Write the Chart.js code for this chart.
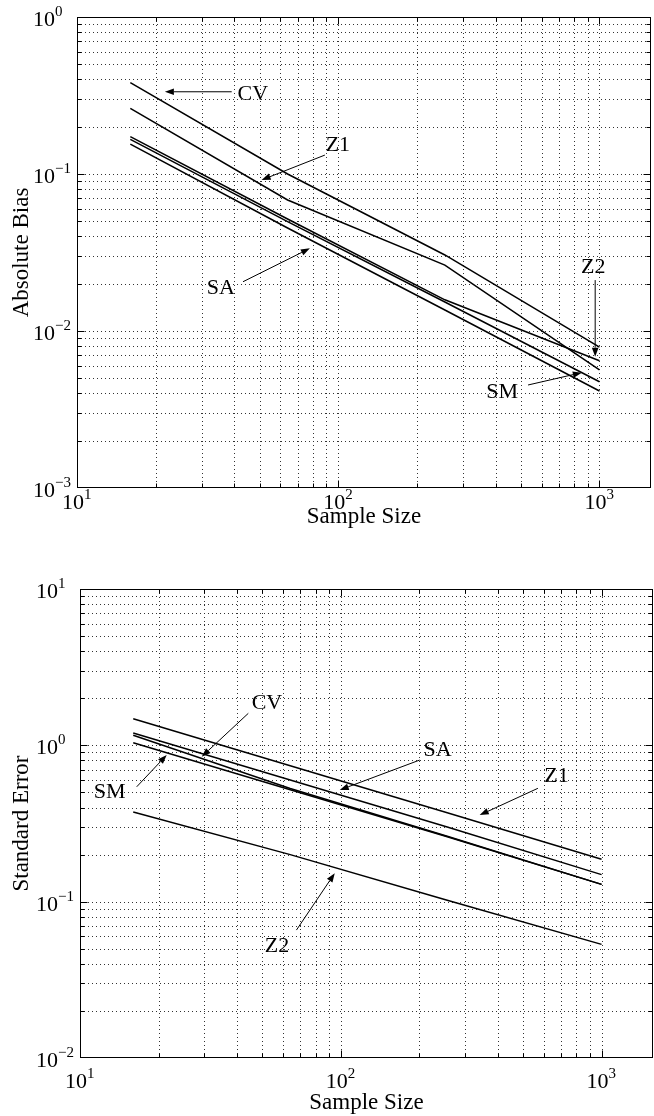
<!DOCTYPE html>
<html>
<head>
<meta charset="utf-8">
<script src="https://cdn.jsdelivr.net/npm/chart.js@4.4.1/dist/chart.umd.min.js"></script>
<style>
  body { margin: 0; background: #fff; }
  canvas { display: block; }
</style>
</head>
<body>
<canvas id="biasChart" width="654" height="560"></canvas>
<canvas id="errorChart" width="654" height="556"></canvas>
<script>
const sampleSizes = [16, 64, 256, 1000];

// top panel: absolute bias
const biasCV = [0.382, 0.100, 0.0305, 0.0079];
const biasZ1 = [0.262, 0.0683, 0.0263, 0.00565];
const biasZ2 = [0.173, 0.0517, 0.0158, 0.00647];
const biasSM = [0.166, 0.0497, 0.0153, 0.00475];
const biasSA = [0.155, 0.0453, 0.0136, 0.00415];

// bottom panel: standard error
const errorZ1 = [1.48, 0.74, 0.37, 0.187];
const errorSA = [1.20, 0.60, 0.30, 0.149];
const errorCV = [1.16, 0.53, 0.262, 0.129];
const errorSM = [1.04, 0.52, 0.26, 0.129];
const errorZ2 = [0.375, 0.20, 0.102, 0.0533];

// tick labels are 10 with a superscript exponent
const xDecades = [10, 100, 1000];
const xExponents = ["1", "2", "3"];
const biasDecades = [0.001, 0.01, 0.1, 1];
const biasExponents = ["\u22123", "\u22122", "\u22121", "0"];
const errorDecades = [0.01, 0.1, 1, 10];
const errorExponents = ["\u22122", "\u22121", "0", "1"];

// curve labels: text position, arrow start and arrow tip, in data units
const biasNotes = [
  { text: "CV", at: [47.1, 0.323], from: [39.1, 0.334], to: [21.7, 0.334] },
  { text: "Z1", at: [99.7, 0.153], from: [88.9, 0.132], to: [50.9, 0.0916] },
  { text: "SA", at: [35.5, 0.0188], from: [43.2, 0.0206], to: [77.9, 0.0336] },
  { text: "SM", at: [424, 0.00409], from: [533, 0.00453], to: [856, 0.00543] },
  { text: "Z2", at: [946, 0.0256], from: [963, 0.0211], to: [963, 0.00686] }
];
const errorNotes = [
  { text: "CV", at: [52.1, 1.865], from: [44.2, 1.602], to: [29.3, 0.846] },
  { text: "SM", at: [13.0, 0.503], from: [16.5, 0.543], to: [21.5, 0.867] },
  { text: "SA", at: [235, 0.933], from: [200.8, 0.805], to: [99.1, 0.518] },
  { text: "Z1", at: [672, 0.636], from: [570, 0.531], to: [341, 0.358] },
  { text: "Z2", at: [56.9, 0.052], from: [67.6, 0.0658], to: [94.8, 0.152] }
];

const FONT = '"Liberation Serif", "Times New Roman", serif';

function line(ctx, x1, y1, x2, y2) {
  ctx.beginPath();
  ctx.moveTo(x1, y1);
  ctx.lineTo(x2, y2);
  ctx.stroke();
}

function arrow(ctx, x1, y1, x2, y2) {
  const a = Math.atan2(y2 - y1, x2 - x1);
  const len = 9, half = 3.3;
  const bx = x2 - len * Math.cos(a), by = y2 - len * Math.sin(a);
  line(ctx, x1, y1, bx, by);
  ctx.beginPath();
  ctx.moveTo(x2, y2);
  ctx.lineTo(bx + half * Math.sin(a), by - half * Math.cos(a));
  ctx.lineTo(bx - half * Math.sin(a), by + half * Math.cos(a));
  ctx.closePath();
  ctx.fill();
}

// 1..9 times each decade, inside the axis range
function gridValues(decades, scale) {
  const out = [];
  decades.forEach(d => {
    for (let k = 1; k <= 9; k++) {
      const v = k * d;
      if (v > scale.min * 1.0001 && v < scale.max * 0.9999) out.push({ v, major: k === 1 });
    }
  });
  return out;
}

function framePlugin(s) {
  return {
    id: "frame",
    beforeDatasetsDraw(chart) {
      const { ctx, chartArea: a, scales: { x, y } } = chart;
      ctx.save();
      ctx.strokeStyle = "#333";
      ctx.lineWidth = 1;
      ctx.setLineDash([1, 3]);
      gridValues(xDecades, x).forEach(g => {
        const px = Math.round(x.getPixelForValue(g.v)) + 0.5;
        line(ctx, px, a.top, px, a.bottom);
      });
      gridValues(s.yDecades, y).forEach(g => {
        const py = Math.round(y.getPixelForValue(g.v)) + 0.5;
        line(ctx, a.left, py, a.right, py);
      });
      ctx.restore();
    },
    afterDatasetsDraw(chart) {
      const { ctx, chartArea: a, scales: { x, y } } = chart;
      const L = Math.round(a.left) + 0.5, R = Math.round(a.right) - 0.5;
      const T = Math.round(a.top) + 0.5, B = Math.round(a.bottom) - 0.5;
      ctx.save();
      ctx.strokeStyle = "#000";
      ctx.fillStyle = "#000";
      ctx.lineWidth = 1;
      ctx.strokeRect(L, T, R - L, B - T);

      // inward tick marks on all four sides
      gridValues(xDecades, x).forEach(g => {
        const px = Math.round(x.getPixelForValue(g.v)) + 0.5;
        const len = g.major ? 7 : 4;
        line(ctx, px, B, px, B - len);
        line(ctx, px, T, px, T + len);
      });
      gridValues(s.yDecades, y).forEach(g => {
        const py = Math.round(y.getPixelForValue(g.v)) + 0.5;
        const len = g.major ? 7 : 4;
        line(ctx, L, py, L + len, py);
        line(ctx, R, py, R - len, py);
      });

      // tick labels
      ctx.textBaseline = "alphabetic";
      xDecades.forEach((d, i) => {
        const px = x.getPixelForValue(d);
        ctx.font = "22px " + FONT;
        ctx.textAlign = "right";
        ctx.fillText("10", px + 7, a.bottom + s.xTickGap + 8);
        ctx.font = "15px " + FONT;
        ctx.textAlign = "left";
        ctx.fillText(xExponents[i], px + 7, a.bottom + s.xTickGap - 2);
      });
      s.yDecades.forEach((d, i) => {
        const py = y.getPixelForValue(d);
        ctx.font = "22px " + FONT;
        ctx.textAlign = "right";
        ctx.fillText("10", a.left - 22, py + 9);
        ctx.font = "15px " + FONT;
        ctx.textAlign = "left";
        ctx.fillText(s.yExponents[i], a.left - 22, py - 1);
      });

      // axis titles
      ctx.font = "23px " + FONT;
      ctx.textAlign = "center";
      ctx.textBaseline = "middle";
      ctx.fillText(s.xTitle, (a.left + a.right) / 2, a.bottom + s.xTitleGap);
      ctx.save();
      ctx.translate(22, (a.top + a.bottom) / 2);
      ctx.rotate(-Math.PI / 2);
      ctx.fillText(s.yTitle, 0, 0);
      ctx.restore();

      // curve labels with arrows
      ctx.font = "22px " + FONT;
      s.notes.forEach(n => {
        ctx.fillText(n.text, x.getPixelForValue(n.at[0]), y.getPixelForValue(n.at[1]));
        arrow(ctx,
          x.getPixelForValue(n.from[0]), y.getPixelForValue(n.from[1]),
          x.getPixelForValue(n.to[0]), y.getPixelForValue(n.to[1]));
      });
      ctx.restore();
    }
  };
}

function renderPanel(id, series, yMin, yMax, padding, settings) {
  new Chart(document.getElementById(id), {
    type: "line",
    data: {
      datasets: series.map(values => ({
        data: sampleSizes.map((n, i) => ({ x: n, y: values[i] })),
        borderColor: "#000",
        borderWidth: 1.5,
        pointRadius: 0,
        fill: false,
        tension: 0
      }))
    },
    options: {
      responsive: false,
      animation: false,
      events: [],
      layout: { padding: padding },
      plugins: { legend: { display: false }, tooltip: { enabled: false } },
      scales: {
        x: { type: "logarithmic", min: 10, max: 1575, bounds: "data", display: false },
        y: { type: "logarithmic", min: yMin, max: yMax, bounds: "data", display: false }
      }
    },
    plugins: [framePlugin(settings)]
  });
}

renderPanel("biasChart", [biasCV, biasZ1, biasZ2, biasSM, biasSA], 0.001, 1,
  { left: 77, right: 3, top: 17, bottom: 72 },
  { yDecades: biasDecades, yExponents: biasExponents, notes: biasNotes,
    xTitle: "Sample Size", yTitle: "Absolute Bias", xTickGap: 13, xTitleGap: 29 });

renderPanel("errorChart", [errorZ1, errorSA, errorCV, errorSM, errorZ2], 0.01, 10,
  { left: 80, right: 1, top: 29, bottom: 58 },
  { yDecades: errorDecades, yExponents: errorExponents, notes: errorNotes,
    xTitle: "Sample Size", yTitle: "Standard Error", xTickGap: 22, xTitleGap: 45 });
</script>
</body>
</html>
